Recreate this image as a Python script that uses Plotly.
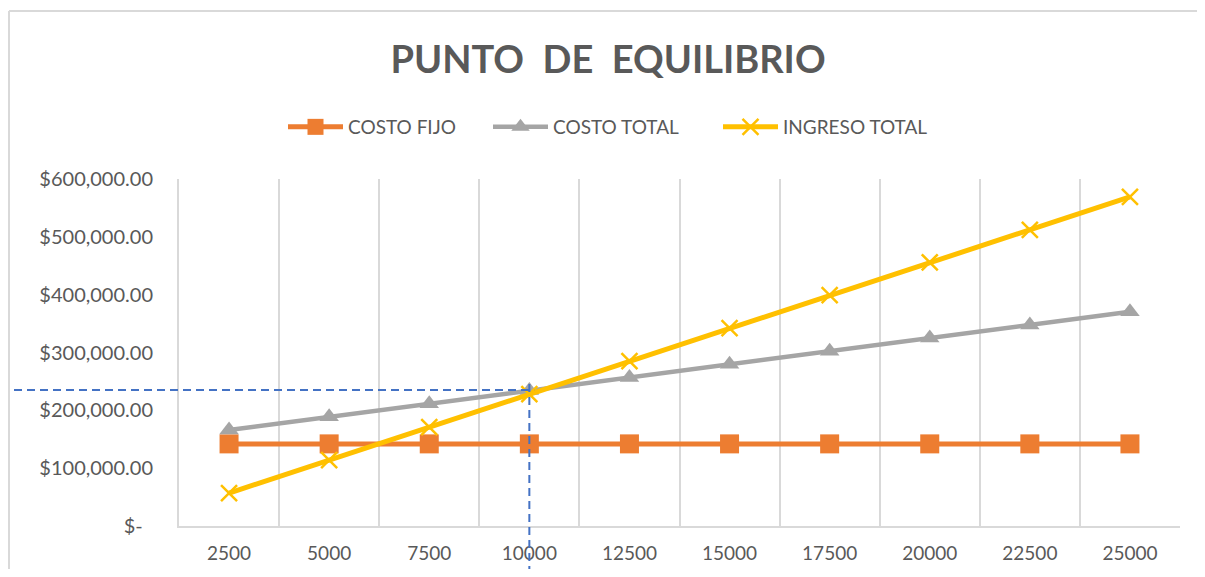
import plotly.graph_objects as go

# ---- data ----
unidades = [2500, 5000, 7500, 10000, 12500, 15000, 17500, 20000, 22500, 25000]
costo_fijo = [142000, 142000, 142000, 142000, 142000, 142000, 142000, 142000, 142000, 142000]
costo_total = [166000, 188700, 211400, 234100, 256800, 279500, 302200, 324900, 347600, 370300]
ingreso_total = [57000, 114000, 171000, 228000, 285000, 342000, 399000, 456000, 512000, 569000]
series_names = ["COSTO FIJO", "COSTO TOTAL", "INGRESO TOTAL"]
y_ticks = [0, 100000, 200000, 300000, 400000, 500000, 600000]
y_ticktext = ["$-\u00a0\u00a0", "$100,000.00", "$200,000.00", "$300,000.00",
              "$400,000.00", "$500,000.00", "$600,000.00"]
x_ticktext = [str(u) for u in unidades]
BREAK_EVEN_UNITS = 10000
BREAK_EVEN_VALUE = 235000

# ---- layout (page pixels; the page body adds an 8px offset) ----
OFF = 8
W, H = 1205 - 2 * OFF, 577 - 2 * OFF
PLOT_L, PLOT_R, PLOT_T, PLOT_B = 179, 1180, 179, 526   # in window pixels

def fx(px):  # window px -> figure px
    return px - OFF

ML = fx(PLOT_L)
MT = fx(PLOT_T)
MR = W - fx(PLOT_R)
MB = H - fx(PLOT_B)

GRID = "#D9D9D9"
TXT = "#595959"
FONT = "Lato"
step = unidades[1] - unidades[0]
x_range = [unidades[0] - step / 2, unidades[-1] + step / 2]
boundaries = [unidades[0] - step / 2 + i * step for i in range(len(unidades) + 1)]

def paper_x(px):
    return (fx(px) - ML) / (W - ML - MR)

def paper_y(py):
    return (H - MB - fx(py)) / (H - MT - MB)

def data_to_paper_x(v):
    return (v - x_range[0]) / (x_range[1] - x_range[0])

def cont_x(px):
    return fx(px) / W

def cont_y(py):
    return 1 - fx(py) / H

fig = go.Figure()
fig.add_trace(go.Scatter(
    x=unidades, y=costo_fijo, name=series_names[0], mode="lines+markers",
    line=dict(color="#ED7D31", width=5),
    marker=dict(symbol="square", size=19, color="#ED7D31"),
    legend="legend",
))
fig.add_trace(go.Scatter(
    x=unidades, y=costo_total, name=series_names[1], mode="lines+markers",
    line=dict(color="#A5A5A5", width=4.5),
    marker=dict(symbol="triangle-up", size=17, color="#A5A5A5"),
    legend="legend2",
))
fig.add_trace(go.Scatter(
    x=unidades, y=ingreso_total, name=series_names[2], mode="lines+markers",
    line=dict(color="#FFC000", width=5),
    marker=dict(symbol="x-thin", size=16, color="#FFC000",
                line=dict(color="#FFC000", width=2.5)),
    legend="legend3",
))

shapes = [
    # chart border (left and top)
    dict(type="line", xref="paper", yref="paper",
         x0=paper_x(9), x1=paper_x(9),
         y0=paper_y(11), y1=paper_y(600),
         line=dict(color=GRID, width=2)),
    dict(type="line", xref="paper", yref="paper",
         x0=paper_x(9), x1=paper_x(1230),
         y0=paper_y(11), y1=paper_y(11),
         line=dict(color=GRID, width=2)),
    # break-even guide lines
    dict(type="line", xref="paper", yref="y",
         x0=paper_x(14), x1=data_to_paper_x(BREAK_EVEN_UNITS + 120),
         y0=BREAK_EVEN_VALUE, y1=BREAK_EVEN_VALUE,
         line=dict(color="#4472C4", width=2, dash="8px,5px"), layer="above"),
    dict(type="line", xref="x", yref="paper",
         x0=BREAK_EVEN_UNITS, x1=BREAK_EVEN_UNITS,
         y0=paper_y(600), y1=paper_y(384),
         line=dict(color="#4472C4", width=2, dash="8px,5px"), layer="above"),
]

def legend_box(text_start_px):
    return dict(orientation="h", xref="container", x=cont_x(text_start_px - 65), xanchor="left",
                yref="container", y=cont_y(127), yanchor="middle",
                font=dict(family=FONT, size=19, color=TXT),
                itemwidth=55, bgcolor="rgba(0,0,0,0)")

fig.update_layout(
    width=W, height=H,
    margin=dict(l=ML, r=MR, t=MT, b=MB, autoexpand=False),
    paper_bgcolor="white", plot_bgcolor="white",
    font=dict(family=FONT, color=TXT, size=18),
    title=dict(text="PUNTO\u00a0\u00a0DE\u00a0\u00a0EQUILIBRIO", x=cont_x(608), xref="container",
               xanchor="center", y=cont_y(60), yref="container", yanchor="middle",
               font=dict(family=FONT, size=38, color=TXT, weight="bold")),
    legend=legend_box(348),
    legend2=legend_box(553),
    legend3=legend_box(783),
    showlegend=True,
    shapes=shapes,
    xaxis=dict(range=x_range, tickmode="array", tickvals=unidades, ticktext=x_ticktext,
               showgrid=False, zeroline=False, showline=True, linecolor=GRID, linewidth=2,
               ticks="", ticklabelstandoff=9, automargin=False,
               tickfont=dict(family=FONT, size=19, color=TXT),
               minor=dict(tickmode="array", tickvals=boundaries, showgrid=True,
                          gridcolor=GRID, gridwidth=2, ticks="")),
    yaxis=dict(range=[0, 600000], tickmode="array", tickvals=y_ticks, ticktext=y_ticktext,
               showgrid=False, zeroline=False, showline=True, linecolor=GRID, linewidth=2,
               ticks="", ticklabelstandoff=20, automargin=False,
               tickfont=dict(family=FONT, size=20, color=TXT)),
)

fig.write_html("out.html")
